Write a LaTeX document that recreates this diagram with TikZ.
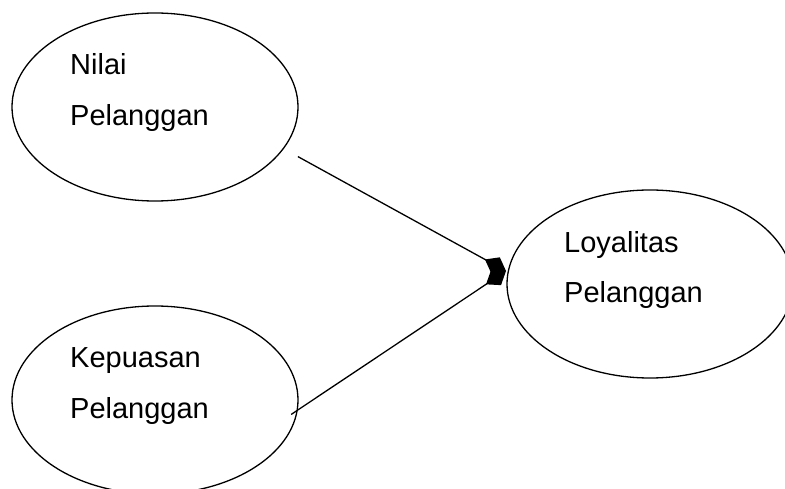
\documentclass[tikz,border=0pt]{standalone}
\usepackage{fontspec}
\setmainfont{Liberation Sans}
\usetikzlibrary{shapes.geometric, % For ellipse
                arrows.meta,      % For the diamond tip
               }

\begin{document}
\begin{tikzpicture}[x=1pt, y=-1pt,
    oval/.style={draw, ellipse, line width=1.3pt, inner sep=0pt,
                 minimum width=286pt, minimum height=188pt},
    txt/.style={anchor=base west, align=left, inner sep=0pt,
                font=\fontsize{29}{51}\selectfont},
    link/.style={line width=1.3pt, -{Diamond[length=24pt, width=18pt]}}]
  \useasboundingbox (0,0) rectangle (785,489);

  \node[oval] (nilai) at (155,107) {};
  \node[oval] (puas) at (155,400) {};
  \node[oval] (loyal) at (650,284) {};

  % base anchor sits on the last line
  \node[txt] (nilaitxt) at (70,126) {Nilai\\Pelanggan};
  \node[txt] (puastxt) at (70,418) {Kepuasan\\Pelanggan};
  \node[txt] (loyaltxt) at (564,303) {Loyalitas\\Pelanggan};

  \coordinate (tip) at (506,271);

  \draw[link, shorten <=16pt] (nilai.-18) -- (tip);
  \draw[link, shorten <=-8pt] (puas.-4) -- (tip);
\end{tikzpicture}
\end{document}
